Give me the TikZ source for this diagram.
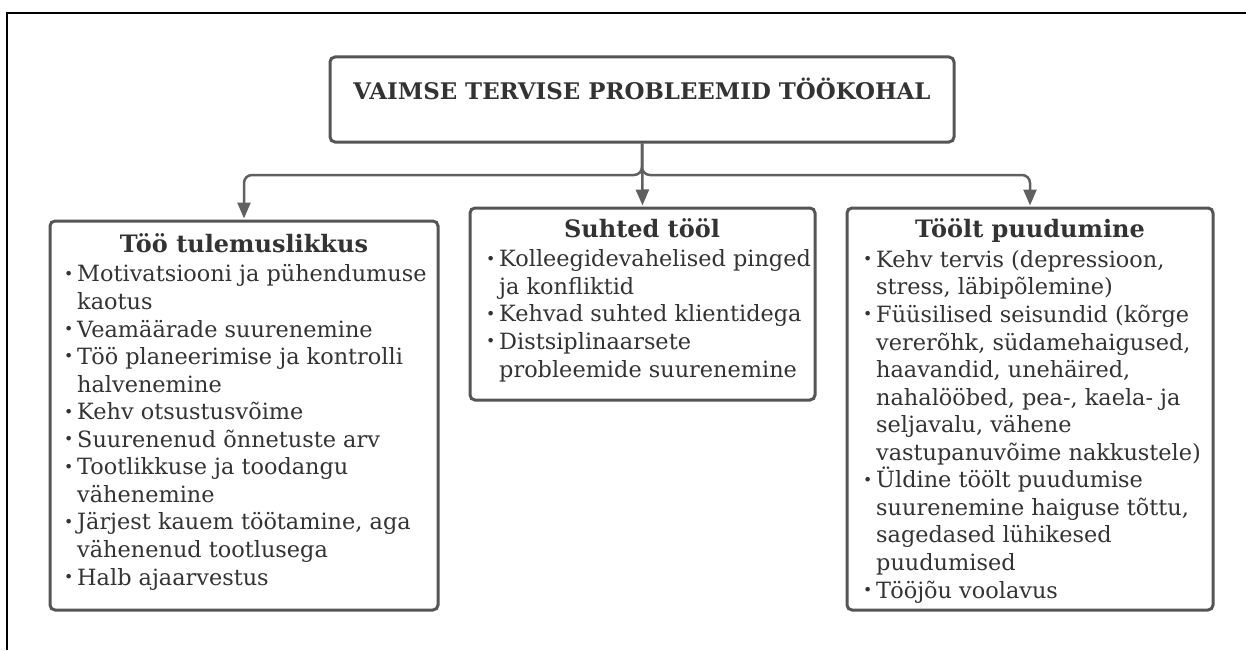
\documentclass[tikz,border=0pt]{standalone}
\usepackage{fontspec}
\usepackage{graphicx}
\setmainfont{DejaVu Serif}
\usetikzlibrary{arrows.meta,positioning}
\definecolor{boxgray}{RGB}{85,85,85}
\definecolor{linkgray}{RGB}{96,96,96}
\definecolor{inkgray}{RGB}{51,51,51}
\newcommand{\bul}{\makebox[14pt][l]{\hspace{1pt}\raisebox{0.12em}{\scalebox{0.7}{\textbullet}}}}
\newcommand{\ind}{\hspace*{14pt}}

\begin{document}
\begin{tikzpicture}[x=1pt,y=-1pt,
  card/.style={draw=boxgray, line width=3pt, rounded corners=5pt, fill=white},
  cardhead/.style={font=\fontsize{24}{28}\selectfont\bfseries, text=inkgray, anchor=base, inner sep=0pt},
  cardlist/.style={font=\fontsize{22.4}{27.55}\selectfont, text=inkgray, align=left, anchor=base west, inner sep=0pt},
  link/.style={draw=linkgray, line width=2.5pt, rounded corners=8pt, -{Triangle[length=16pt,width=13pt]}, shorten >=1pt}]
\useasboundingbox (0,0) rectangle (1246,650);
% Frame (only top and left visible)
\draw[black, line width=2pt] (6.5,650) -- (6.5,13.5) -- (1246,13.5);
% Title
\node[card, minimum width=624pt, minimum height=85pt] (title) at (642,99.5) {};
\node[font=\fontsize{22.9}{26}\selectfont\bfseries, text=inkgray, anchor=base, inner sep=0pt] (title-label) at (642,100) {VAIMSE TERVISE PROBLEEMID TÖÖKOHAL};
% Three boxes
\node[card, minimum width=388pt, minimum height=389pt] (perf) at (244,415.5) {};
\node[card, minimum width=345pt, minimum height=192pt] (rel) at (642.5,304) {};
\node[card, minimum width=366pt, minimum height=402pt] (abs) at (1030,409) {};
% Connectors
\coordinate (split) at (642,175);
\draw[link] (title.south) -- (split) -| (perf.north);
\draw[link] (title.south) -- (rel.north);
\draw[link] (title.south) -- (split) -| (abs.north);
% Box texts (lists anchored at their last baseline)
\node[cardhead] (perf-head) at (244,252) {Töö tulemuslikkus};
\node[cardlist] (perf-list) at (63,585) {\bul Motivatsiooni ja pühendumuse\\
  \ind kaotus\\
  \bul Veamäärade suurenemine\\
  \bul Töö planeerimise ja kontrolli\\
  \ind halvenemine\\
  \bul Kehv otsustusvõime\\
  \bul Suurenenud õnnetuste arv\\
  \bul Tootlikkuse ja toodangu\\
  \ind vähenemine\\
  \bul Järjest kauem töötamine, aga\\
  \ind vähenenud tootlusega\\
  \bul Halb ajaarvestus};
\node[cardhead] (rel-head) at (642,237) {Suhted tööl};
\node[cardlist] (rel-list) at (485,377) {\bul Kolleegidevahelised pinged\\
  \ind ja konfliktid\\
  \bul Kehvad suhted klientidega\\
  \bul Distsiplinaarsete\\
  \ind probleemide suurenemine};
\node[cardhead] (abs-head) at (1030,237) {Töölt puudumine};
\node[cardlist] (abs-list) at (862,598) {\bul Kehv tervis (depressioon,\\
  \ind stress, läbipõlemine)\\
  \bul Füüsilised seisundid (kõrge\\
  \ind vererõhk, südamehaigused,\\
  \ind haavandid, unehäired,\\
  \ind nahalööbed, pea-, kaela- ja\\
  \ind seljavalu, vähene\\
  \ind vastupanuvõime nakkustele)\\
  \bul Üldine töölt puudumise\\
  \ind suurenemine haiguse tõttu,\\
  \ind sagedased lühikesed\\
  \ind puudumised\\
  \bul Tööjõu voolavus};
\end{tikzpicture}
\end{document}
